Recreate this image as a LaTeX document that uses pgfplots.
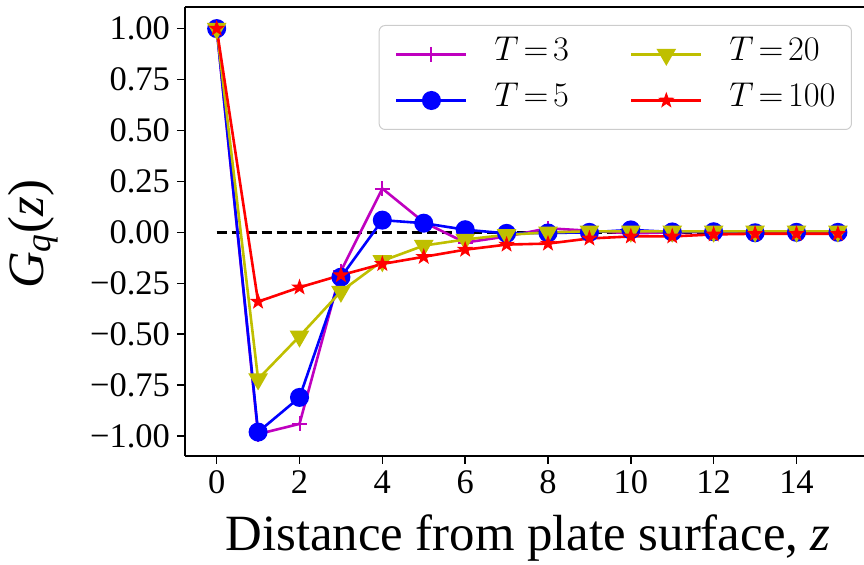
\documentclass[border=0pt]{standalone}
\usepackage{fontspec}
\setmainfont{Liberation Serif}
\usepackage{pgfplots}
\pgfplotsset{compat=1.18}
\definecolor{mplm}{rgb}{0.75,0,0.75}
\definecolor{mply}{rgb}{0.75,0.75,0}
\definecolor{legedge}{rgb}{0.8,0.8,0.8}
\pgfdeclareplotmark{fstar}{%
  \pgfpathmoveto{\pgfpointpolar{90}{\pgfplotmarksize}}%
  \pgfpathlineto{\pgfpointpolar{126}{0.4\pgfplotmarksize}}%
  \pgfpathlineto{\pgfpointpolar{162}{\pgfplotmarksize}}%
  \pgfpathlineto{\pgfpointpolar{198}{0.4\pgfplotmarksize}}%
  \pgfpathlineto{\pgfpointpolar{234}{\pgfplotmarksize}}%
  \pgfpathlineto{\pgfpointpolar{270}{0.4\pgfplotmarksize}}%
  \pgfpathlineto{\pgfpointpolar{306}{\pgfplotmarksize}}%
  \pgfpathlineto{\pgfpointpolar{342}{0.4\pgfplotmarksize}}%
  \pgfpathlineto{\pgfpointpolar{18}{\pgfplotmarksize}}%
  \pgfpathlineto{\pgfpointpolar{54}{0.4\pgfplotmarksize}}%
  \pgfpathclose
  \pgfusepathqfillstroke
}
\begin{document}
\begin{tikzpicture}
\useasboundingbox (-92.5bp,-54.65bp) rectangle (339.5bp,227.85bp);
\begin{axis}[
  at={(0,0)}, anchor=south west,
  scale only axis, width=339.5bp, height=224.35bp,
  xmin=-0.765, xmax=15.63, ymin=-1.096, ymax=1.106,
  axis x line*=box, axis y line*=left,
  axis line style={line width=0.8bp, black},
  xtick pos=left, ytick pos=left,
  tick align=outside, major tick length=4bp,
  every tick/.style={black, line width=0.8bp},
  xtick={0,2,4,6,8,10,12,14},
  xticklabels={0,2,4,6,8,10,12,14},
  ytick={-1,-0.75,-0.5,-0.25,0,0.25,0.5,0.75,1},
  yticklabels={−1.00,−0.75,−0.50,−0.25,0.00,0.25,0.50,0.75,1.00},
  tick label style={font=\fontsize{17.3}{20}\selectfont},
  /pgf/number format/assume math mode=true,
  xlabel={Distance from plate surface, \textit{z}},
  xlabel style={at={(axis cs:7.52,-1.5588)}, anchor=base, font=\fontsize{25.5}{30}\selectfont},
  ylabel={\textit{G}\textsubscript{\textit{q}}(\textit{z})},
  ylabel style={at={(axis cs:-4.1936,-0.01)}, anchor=base, font=\fontsize{25.5}{30}\selectfont},
  legend columns=2, transpose legend,
  legend cell align=left,
  legend style={at={(rel axis cs:0.9823,0.9599)}, anchor=north east,
    draw=legedge, line width=0.5bp, rounded corners=3bp, fill=white,
    inner xsep=8bp, inner ysep=5.5bp,
    font=\fontsize{17.8}{21}\selectfont,
    nodes={inner sep=0pt, text height=12bp, text depth=6bp},
    row sep=5bp,
    /tikz/every odd column/.append style={column sep=13.35bp},
    /tikz/every even column/.append style={column sep=30.5bp}},
  legend image code/.code={%
    \draw[mark repeat=2,mark phase=2] plot coordinates {(0bp,0bp)(17.5bp,0bp)(35bp,0bp)};},
  every axis plot/.append style={line width=1.3bp},
]
\addplot[black, dash pattern=on 5bp off 2.5bp, forget plot] coordinates {(0,0) (15,0)};

\addplot[mplm, mark=+, mark size=3.75bp, mark options={sharp corners, line width=1bp}] coordinates {
(0,1.0)(1,-0.99)(2,-0.94)(3,-0.19)(4,0.215)(5,0.05)(6,-0.05)(7,-0.02)(8,0.02)(9,0.008)(10,-0.005)(11,0.0)(12,0.003)(13,-0.003)(14,0.0)(15,0.0)};
\addlegendentry{$T\mkern2.5mu{=}\mkern2.5mu3$}

\addplot[blue, mark=*, mark size=4.1bp, mark options={sharp corners, solid, fill=blue}] coordinates {
(0,1.0)(1,-0.98)(2,-0.81)(3,-0.22)(4,0.06)(5,0.045)(6,0.013)(7,-0.005)(8,-0.003)(9,0.0)(10,0.012)(11,0.002)(12,0.003)(13,-0.002)(14,0.0)(15,0.0)};
\addlegendentry{$T\mkern2.5mu{=}\mkern2.5mu5$}

\addplot[mply, mark=triangle*, mark size=4.4bp, mark options={sharp corners, rotate=180, fill=mply}] coordinates {
(0,1.0)(1,-0.72)(2,-0.51)(3,-0.29)(4,-0.14)(5,-0.065)(6,-0.035)(7,-0.012)(8,0.0)(9,0.005)(10,0.005)(11,0.005)(12,0.005)(13,0.005)(14,0.005)(15,0.005)};
\addlegendentry{$T\mkern2.5mu{=}\mkern2.5mu20$}

\addplot[red, mark=fstar, mark size=3.6bp, mark options={sharp corners, line width=0.5bp, fill=red}] coordinates {
(0,1.0)(1,-0.34)(2,-0.27)(3,-0.21)(4,-0.155)(5,-0.12)(6,-0.085)(7,-0.06)(8,-0.055)(9,-0.03)(10,-0.02)(11,-0.02)(12,-0.01)(13,-0.007)(14,-0.007)(15,-0.007)};
\addlegendentry{$T\mkern2.5mu{=}\mkern2.5mu100$}
\end{axis}
\end{tikzpicture}
\end{document}
